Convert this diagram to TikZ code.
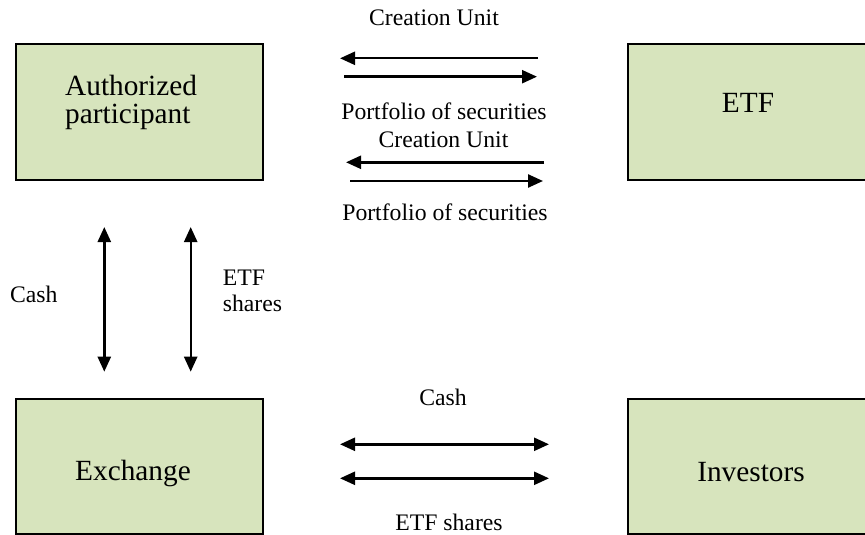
\documentclass[tikz,border=0pt]{standalone}
\usepackage{fontspec}
\setmainfont{Liberation Serif}
\usetikzlibrary{arrows.meta}
\definecolor{boxfill}{HTML}{D7E4BD}
\begin{document}
\begin{tikzpicture}[x=1pt,y=-1pt,
  box/.style={draw=black, line width=2pt, fill=boxfill, inner sep=0pt},
  boxtext/.style={inner sep=0pt, font=\fontsize{29.3}{28}\selectfont},
  lbl/.style={inner sep=0pt, font=\fontsize{23.7}{27}\selectfont},
  tip/.style={Triangle[length=15pt,width=13pt]},
  arr/.style={line width=2.4pt, -{Triangle[length=15pt,width=13pt]}},
  darr/.style={line width=2.4pt, {Triangle[length=15pt,width=13pt]}-{Triangle[length=15pt,width=13pt]}}]
\useasboundingbox (0,0) rectangle (865,535);
\clip (0,0) rectangle (865,535);
% boxes
\node[box, minimum width=247pt, minimum height=135pt] (ap) at (139.5,112) {};
\node[box, minimum width=244pt, minimum height=135pt] (etf) at (750,112) {};
\node[box, minimum width=247pt, minimum height=135pt] (ex) at (139.5,466) {};
\node[box, minimum width=244pt, minimum height=135pt] (inv) at (750,466) {};
% box texts
\node[boxtext, align=left, anchor=west] (apt) at (65,102.5) {Authorized\\participant};
\node[boxtext, anchor=base] (etft) at (748,113) {ETF};
\node[boxtext, anchor=base] (ext) at (133,480) {Exchange};
\node[boxtext, anchor=base] (invt) at (751,481) {Investors};
% top arrows
\coordinate (a1s) at (538,58.3); \coordinate (a1e) at (340,58.3);
\coordinate (a2s) at (344,76.7); \coordinate (a2e) at (537,76.7);
\coordinate (a3s) at (544,162.3); \coordinate (a3e) at (346,162.3);
\coordinate (a4s) at (350,181); \coordinate (a4e) at (543,181);
\draw[arr] (a1s) -- (a1e);
\draw[arr] (a2s) -- (a2e);
\draw[arr] (a3s) -- (a3e);
\draw[arr] (a4s) -- (a4e);
\node[lbl, anchor=base] (cu1) at (434,26) {Creation Unit};
\node[lbl, anchor=base] (ps1) at (444,119) {Portfolio of securities};
\node[lbl, anchor=base] (cu2) at (443.5,147) {Creation Unit};
\node[lbl, anchor=base] (ps2) at (445,220) {Portfolio of securities};
% vertical arrows
\coordinate (v1t) at (104.3,227); \coordinate (v1b) at (104.3,371.7);
\coordinate (v2t) at (190.7,227); \coordinate (v2b) at (190.7,371.7);
\draw[darr] (v1t) -- (v1b);
\draw[darr] (v2t) -- (v2b);
\node[lbl, anchor=base] (cashl) at (33.7,302.5) {Cash};
\node[lbl, anchor=base west] (etfs1) at (222.7,285) {ETF};
\node[lbl, anchor=base west] (etfs2) at (222.7,311.7) {shares};
% bottom arrows
\coordinate (b1l) at (340,444.3); \coordinate (b1r) at (549,444.3);
\coordinate (b2l) at (340,478.3); \coordinate (b2r) at (549,478.3);
\draw[darr] (b1l) -- (b1r);
\draw[darr] (b2l) -- (b2r);
\node[lbl, anchor=base] (cashb) at (443,405) {Cash};
\node[lbl, anchor=base] (etfsb) at (449,530) {ETF shares};
\end{tikzpicture}
\end{document}
